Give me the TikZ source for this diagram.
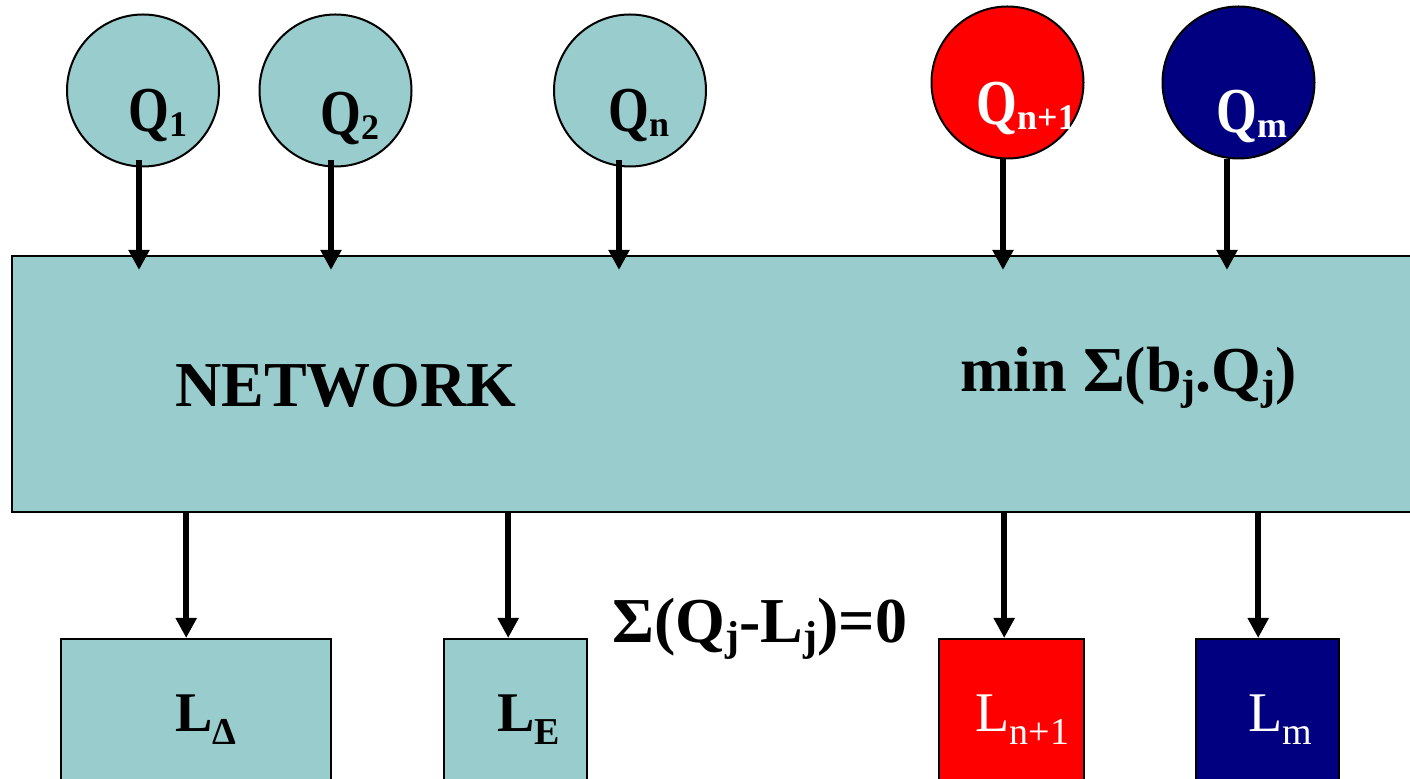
\documentclass[tikz,border=0pt]{standalone}
\usepackage{fontspec}
\setmainfont{Liberation Serif}
\usetikzlibrary{arrows.meta,calc}
\definecolor{tealfill}{RGB}{153,204,204}
\definecolor{navyfill}{RGB}{0,0,128}
\newcommand{\qsub}[1]{\raisebox{-2.5pt}{\fontsize{18}{18}\selectfont #1}}
\newcommand{\qQ}{\scalebox{0.82}[1]{Q}}
\newcommand{\lsub}[1]{\raisebox{-6.5pt}{\fontsize{19}{19}\selectfont #1}}
\newcommand{\bsub}[1]{\raisebox{-4pt}{\fontsize{21}{21}\selectfont #1}}
\begin{document}
\begin{tikzpicture}[x=0.5pt,y=-0.5pt,
  qc/.style={circle, draw=black, line width=1pt, minimum size=76pt, inner sep=0pt},
  lbl/.style={inner sep=0pt, anchor=base west, font=\fontsize{32}{32}\selectfont\bfseries},
  llbl/.style={inner sep=0pt, anchor=base west, font=\fontsize{28}{28}\selectfont\bfseries},
  wlbl/.style={inner sep=0pt, anchor=base west, text=white, font=\fontsize{28}{28}\selectfont},
  arr/.style={line width=3pt, -{Triangle[width=10pt,length=10pt]}},
  box/.style={draw=black, line width=1.2pt, inner sep=0pt, anchor=north west}]
\clip (0,0) rectangle (1410,779);
\fill[white] (0,0) rectangle (1410,779);
% network box
\node[box, fill=tealfill, minimum width=704.5pt, minimum height=128pt] (net) at (11,255) {};
% source circles
\node[qc, fill=tealfill] (q1) at (143,90.5) {};
\node[qc, fill=tealfill] (q2) at (335.5,90.5) {};
\node[qc, fill=tealfill] (qn) at (630,90.5) {};
\node[qc, fill=red] (qn1) at (1007.5,82.5) {};
\node[qc, fill=navyfill] (qm) at (1238.5,82.5) {};
\node[lbl] (q1t) at (128,132) {\qQ\qsub{1}};
\node[lbl] (q2t) at (320,135) {\qQ\qsub{2}};
\node[lbl] (qnt) at (608,132) {\qQ\qsub{n}};
\node[lbl, text=white] (qn1t) at (976,125) {\qQ\qsub{n+1}};
\node[lbl, text=white] (qmt) at (1216,133) {\qQ\qsub{m}};
% arrows into network
\draw[arr] ($(q1.south)+(-4,-7.5)$) -- ($(q1.south |- net.north)+(-4,15)$);
\draw[arr] ($(q2.south)+(-4.5,-7.5)$) -- ($(q2.south |- net.north)+(-4.5,15)$);
\draw[arr] ($(qn.south)+(-11,-7.5)$) -- ($(qn.south |- net.north)+(-11,15)$);
\draw[arr] ($(qn1.south)+(-4.5,0)$) -- ($(qn1.south |- net.north)+(-4.5,15)$);
\draw[arr] ($(qm.south)+(-11.5,0)$) -- ($(qm.south |- net.north)+(-11.5,15)$);
% texts in network
\node[lbl] (nettext) at (175,407) {NETWORK};
\node[lbl] (mintext) at (960,392) {min Σ(b\bsub{j}.Q\bsub{j})};
% load boxes
\node[box, fill=tealfill, minimum width=135pt, minimum height=80pt] (la) at (60,638) {};
\node[box, fill=tealfill, minimum width=71.5pt, minimum height=80pt] (le) at (443,638) {};
\node[box, fill=red, minimum width=72.5pt, minimum height=80pt] (ln1) at (938,638) {};
\node[box, fill=navyfill, minimum width=71.5pt, minimum height=80pt] (lm) at (1195,638) {};
\node[llbl] (lat) at (175,732) {L\lsub{Δ}};
\node[llbl] (let) at (497,732) {L\lsub{E}};
\node[wlbl] (ln1t) at (975,732) {L\lsub{n+1}};
\node[wlbl] (lmt) at (1248,732) {L\lsub{m}};
% arrows out of network
\draw[arr] ($(la.north |- net.south)+(-10,0)$) -- ($(la.north)+(-10,0)$);
\draw[arr] ($(le.north |- net.south)+(-7.5,0)$) -- ($(le.north)+(-7.5,0)$);
\draw[arr] ($(ln1.north |- net.south)+(-7.5,0)$) -- ($(ln1.north)+(-7.5,0)$);
\draw[arr] ($(lm.north |- net.south)+(-9.5,0)$) -- ($(lm.north)+(-9.5,0)$);
% balance equation
\node[lbl] (baltext) at (612,643) {Σ(Q\bsub{j}-L\bsub{j})=0};
\end{tikzpicture}
\end{document}
